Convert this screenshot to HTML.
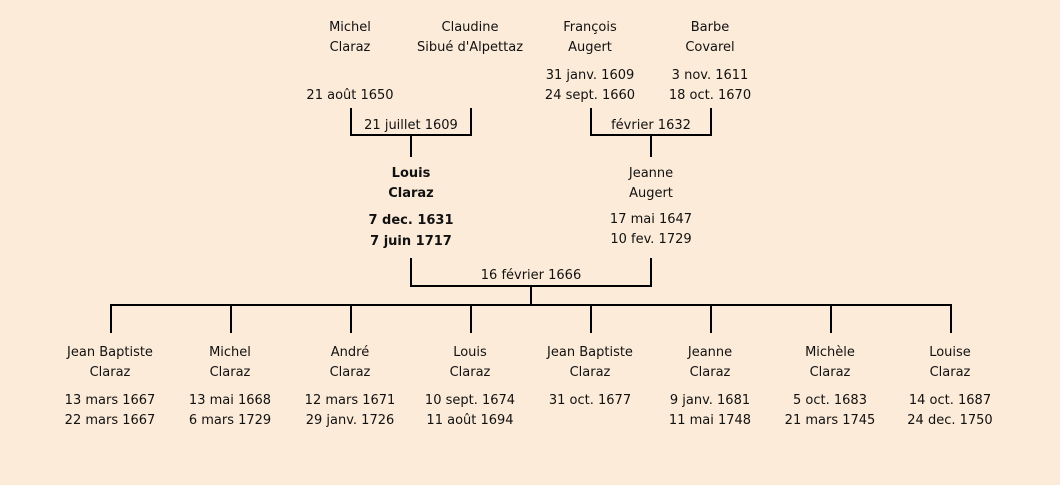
<!DOCTYPE html>
<html><head><meta charset="utf-8"><style>
html,body{margin:0;padding:0}
body{width:1060px;height:485px;background:#fcebd8;position:relative;overflow:hidden;font-family:"DejaVu Sans","Liberation Sans",sans-serif;font-size:13px;color:#111}
.t{position:absolute;width:160px;margin-left:-80px;text-align:center;line-height:20px;white-space:nowrap;transform:translateY(1px)}
.b{font-weight:bold}
.l{position:absolute;background:#000}
</style></head><body>
<div class="t" style="left:350px;top:17px">Michel<br>Claraz</div>
<div class="t" style="left:470px;top:17px">Claudine<br>Sibué d'Alpettaz</div>
<div class="t" style="left:590px;top:17px">François<br>Augert</div>
<div class="t" style="left:710px;top:17px">Barbe<br>Covarel</div>
<div class="t" style="left:350px;top:85px">21 août 1650</div>
<div class="t" style="left:590px;top:65px">31 janv. 1609<br>24 sept. 1660</div>
<div class="t" style="left:710px;top:65px">3 nov. 1611<br>18 oct. 1670</div>
<div class="l" style="left:350px;top:108px;width:2px;height:28px"></div>
<div class="l" style="left:470px;top:108px;width:2px;height:28px"></div>
<div class="l" style="left:350px;top:134px;width:122px;height:2px"></div>
<div class="t" style="left:411px;top:115px">21 juillet 1609</div>
<div class="l" style="left:410px;top:134px;width:2px;height:23px"></div>
<div class="l" style="left:590px;top:108px;width:2px;height:28px"></div>
<div class="l" style="left:710px;top:108px;width:2px;height:28px"></div>
<div class="l" style="left:590px;top:134px;width:122px;height:2px"></div>
<div class="t" style="left:651px;top:115px">février 1632</div>
<div class="l" style="left:650px;top:134px;width:2px;height:23px"></div>
<div class="t b" style="left:411px;top:163px">Louis<br>Claraz</div>
<div class="t b" style="left:411px;top:209px;line-height:21px">7 dec. 1631<br>7 juin 1717</div>
<div class="t" style="left:651px;top:163px">Jeanne<br>Augert</div>
<div class="t" style="left:651px;top:209px">17 mai 1647<br>10 fev. 1729</div>
<div class="l" style="left:410px;top:258px;width:2px;height:29px"></div>
<div class="l" style="left:650px;top:258px;width:2px;height:29px"></div>
<div class="l" style="left:410px;top:285px;width:242px;height:2px"></div>
<div class="t" style="left:531px;top:265px">16 février 1666</div>
<div class="l" style="left:530px;top:285px;width:2px;height:20px"></div>
<div class="l" style="left:110px;top:304px;width:842px;height:2px"></div>
<div class="l" style="left:110px;top:304px;width:2px;height:29px"></div>
<div class="l" style="left:230px;top:304px;width:2px;height:29px"></div>
<div class="l" style="left:350px;top:304px;width:2px;height:29px"></div>
<div class="l" style="left:470px;top:304px;width:2px;height:29px"></div>
<div class="l" style="left:590px;top:304px;width:2px;height:29px"></div>
<div class="l" style="left:710px;top:304px;width:2px;height:29px"></div>
<div class="l" style="left:830px;top:304px;width:2px;height:29px"></div>
<div class="l" style="left:950px;top:304px;width:2px;height:29px"></div>
<div class="t" style="left:110px;top:342px">Jean Baptiste<br>Claraz</div>
<div class="t" style="left:110px;top:390px">13 mars 1667<br>22 mars 1667</div>
<div class="t" style="left:230px;top:342px">Michel<br>Claraz</div>
<div class="t" style="left:230px;top:390px">13 mai 1668<br>6 mars 1729</div>
<div class="t" style="left:350px;top:342px">André<br>Claraz</div>
<div class="t" style="left:350px;top:390px">12 mars 1671<br>29 janv. 1726</div>
<div class="t" style="left:470px;top:342px">Louis<br>Claraz</div>
<div class="t" style="left:470px;top:390px">10 sept. 1674<br>11 août 1694</div>
<div class="t" style="left:590px;top:342px">Jean Baptiste<br>Claraz</div>
<div class="t" style="left:590px;top:390px">31 oct. 1677</div>
<div class="t" style="left:710px;top:342px">Jeanne<br>Claraz</div>
<div class="t" style="left:710px;top:390px">9 janv. 1681<br>11 mai 1748</div>
<div class="t" style="left:830px;top:342px">Michèle<br>Claraz</div>
<div class="t" style="left:830px;top:390px">5 oct. 1683<br>21 mars 1745</div>
<div class="t" style="left:950px;top:342px">Louise<br>Claraz</div>
<div class="t" style="left:950px;top:390px">14 oct. 1687<br>24 dec. 1750</div>
</body></html>
